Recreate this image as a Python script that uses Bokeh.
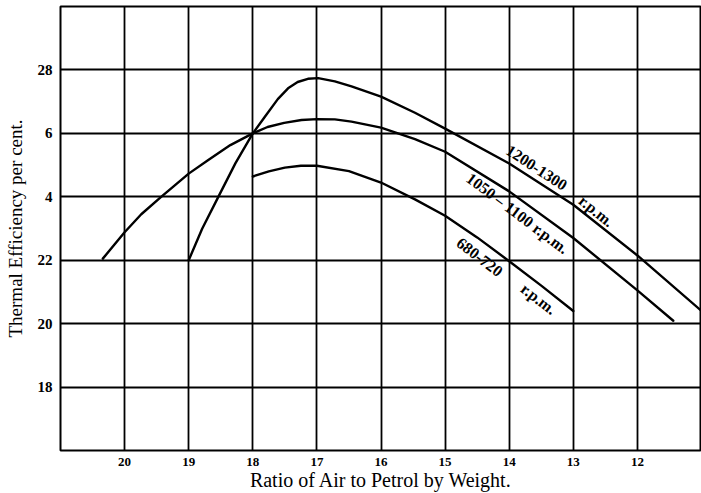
from bokeh.plotting import figure
from bokeh.models import Range1d, FixedTicker, ColumnDataSource
from bokeh.core.properties import value
from bokeh.embed import file_html
from bokeh.resources import INLINE

# ---- data ----
x_ticks = [20, 19, 18, 17, 16, 15, 14, 13, 12]
y_ticks = [18, 20, 22, 24, 26, 28]
y_tick_labels = ["18", "20", "22", "4", "6", "28"]

# 1200-1300 r.p.m.
x_1200 = [19.0, 18.79, 18.53, 18.27, 18.0, 17.82, 17.61, 17.45, 17.3, 17.14, 16.98, 16.72, 16.46,
          16.0, 15.47, 15.0, 14.0, 13.0, 12.0, 11.0]
y_1200 = [22.0, 22.99, 24.03, 25.06, 26.0, 26.5, 27.08, 27.42, 27.62, 27.72, 27.74, 27.64, 27.48,
          27.16, 26.65, 26.15, 25.05, 23.75, 22.15, 20.4]

# 1050-1100 r.p.m.
x_1050 = [20.34, 20.0, 19.74, 19.43, 19.0, 18.7, 18.35, 18.0, 17.77, 17.51, 17.24, 17.0, 16.72,
          16.46, 16.0, 15.47, 15.0, 14.0, 13.0, 12.0, 11.44]
y_1050 = [22.05, 22.88, 23.45, 24.0, 24.73, 25.15, 25.63, 26.0, 26.2, 26.33, 26.42, 26.45, 26.44,
          26.37, 26.18, 25.82, 25.42, 24.17, 22.7, 21.05, 20.09]

# 680-720 r.p.m.
x_680 = [18.0, 17.75, 17.5, 17.25, 17.0, 16.5, 16.0, 15.47, 15.0, 14.5, 14.0, 13.5, 13.0]
y_680 = [24.64, 24.8, 24.92, 24.98, 24.98, 24.81, 24.45, 23.92, 23.4, 22.72, 21.97, 21.2, 20.4]

curve_labels = ["1200-1300", "r.p.m.", "1050 \u2013 1100 r.p.m.", "680-720", "r.p.m."]
label_x = [13.57, 12.64, 13.87, 14.46, 13.54]
label_y = [24.92, 23.55, 23.48, 22.1, 20.78]
label_angle = [-0.58, -0.68, -0.645, -0.65, -0.66]

# ---- figure ----
p = figure(width=701, height=493, output_backend="svg", toolbar_location=None,
           x_range=Range1d(21, 11), y_range=Range1d(16, 30),
           min_border_left=60, min_border_right=0, min_border_top=6, min_border_bottom=41)
p.background_fill_color = "white"
p.border_fill_color = "white"
p.outline_line_color = "black"
p.outline_line_width = 2

serif = "Liberation Serif"

p.xaxis.ticker = FixedTicker(ticks=x_ticks)
p.yaxis.ticker = FixedTicker(ticks=y_ticks)
p.yaxis.major_label_overrides = {t: s for t, s in zip(y_ticks, y_tick_labels)}

for ax in (p.xaxis[0], p.yaxis[0]):
    ax.axis_line_color = None
    ax.major_tick_line_color = None
    ax.minor_tick_line_color = None
    ax.major_tick_out = 0
    ax.major_tick_in = 0
    ax.major_label_text_font = serif
    ax.major_label_text_font_style = "bold"
    ax.major_label_text_color = "black"
    ax.axis_label_text_font = serif
    ax.axis_label_text_font_style = "normal"
    ax.axis_label_text_color = "black"

p.xaxis.axis_label_text_font_size = "20px"
p.yaxis.axis_label_text_font_size = "19px"
p.xaxis.major_label_text_font_size = "13px"
p.yaxis.major_label_text_font_size = "15px"
p.xaxis.major_label_standoff = 7
p.yaxis.major_label_standoff = 8
p.xaxis.axis_label = "Ratio of Air to Petrol by Weight."
p.yaxis.axis_label = "Thermal Efficiency per cent."
p.xaxis.axis_label_standoff = 0
p.yaxis.axis_label_standoff = 9

p.xgrid.grid_line_color = "black"
p.ygrid.grid_line_color = "black"
p.xgrid.grid_line_width = 1.8
p.ygrid.grid_line_width = 1.8
p.xgrid.grid_line_alpha = 1
p.ygrid.grid_line_alpha = 1

for xs, ys in ((x_1200, y_1200), (x_1050, y_1050), (x_680, y_680)):
    p.line(xs, ys, line_color="black", line_width=2.4, line_join="round", line_cap="round")

src = ColumnDataSource(dict(x=label_x, y=label_y, text=curve_labels, angle=label_angle))
p.text(x="x", y="y", text="text", angle="angle", source=src,
       text_font=value(serif), text_font_style="bold", text_font_size="16px",
       text_color="black", text_align="center", text_baseline="middle")

open("out.html", "w").write(file_html(p, INLINE))
